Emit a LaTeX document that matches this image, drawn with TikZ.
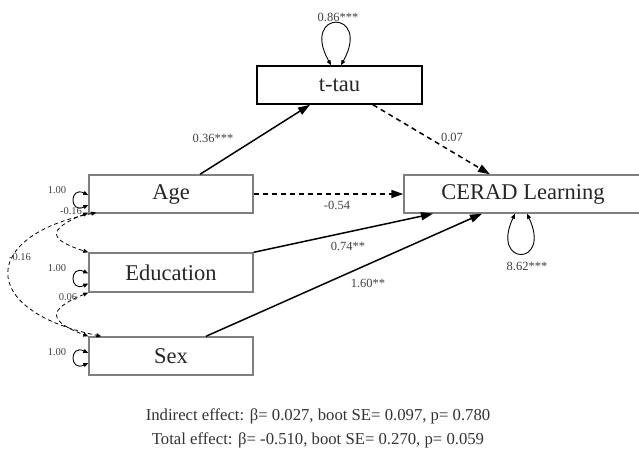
\documentclass[tikz,border=0pt]{standalone}
\usepackage{fontspec}
\setmainfont{Liberation Serif}
\usetikzlibrary{arrows.meta}
\definecolor{boxgray}{HTML}{7F7F7F}
\definecolor{labgray}{HTML}{404040}
\definecolor{txtgray}{HTML}{333333}
\tikzset{
  varbox/.style={draw=boxgray, line width=1.4pt, minimum height=38pt, inner sep=0pt,
    font=\fontsize{22.5}{22.5}\selectfont, text=black!85},
  medbox/.style={varbox, draw=black, line width=1.6pt},
  path/.style={line width=1.5pt, -{Triangle[length=12pt,width=8pt]}},
  dpath/.style={path, dash pattern=on 5pt off 4pt},
  selfloop/.style={line width=0.9pt, {Triangle[length=5pt,width=4pt]}-{Triangle[length=5pt,width=4pt]}},
  cov/.style={line width=0.8pt, dash pattern=on 4pt off 3pt,
    {Triangle[length=5pt,width=4pt]}-{Triangle[length=5pt,width=4pt]}},
  elab/.style={font=\fontsize{12.5}{12.5}\selectfont, text=labgray, inner sep=1pt},
  slab/.style={font=\fontsize{10.5}{10.5}\selectfont, text=labgray, inner sep=1pt},
  note/.style={font=\fontsize{16.7}{16.7}\selectfont, text=txtgray, inner sep=0pt}
}
\begin{document}
\begin{tikzpicture}[x=1pt, y=-1pt]
\useasboundingbox (0,0) rectangle (639,451);
\clip (0,0) rectangle (639,451);

% variables
\node[medbox, minimum width=165pt] (ttau) at (339.5,85) {t-tau};
\node[varbox, minimum width=238pt] (cerad) at (523,194) {CERAD Learning};
\node[varbox, minimum width=164pt] (age) at (171,194) {Age};
\node[varbox, minimum width=164pt, minimum height=39pt] (edu) at (171,272.5) {Education};
\node[varbox, minimum width=164pt] (sex) at (171,356) {Sex};

% regression paths
\draw[path] ([xshift=29pt]age.north) -- ([xshift=-29.5pt]ttau.south);
\draw[dpath] ([xshift=33.5pt]ttau.south) -- ([xshift=-33pt]cerad.north);
\draw[dpath] (age.east) -- (cerad.west);
\draw[path] (edu.north east) -- ([xshift=-90pt]cerad.south);
\draw[path] ([xshift=35pt]sex.north) -- ([xshift=-41pt]cerad.south);

\node[elab] (l1) at (213,138) {0.36***};
\node[elab] (l2) at (452,137) {0.07};
\node[elab] (l3) at (337,205) {-0.54};
\node[elab] (l4) at (348,246) {0.74**};
\node[elab] (l5) at (368,283) {1.60**};

% residual variances
\draw[selfloop] ([xshift=-8.5pt]ttau.north) .. controls +(-31,-56) and +(31,-56) .. ([xshift=1.5pt]ttau.north);
\node[elab] (v1) at (338,17) {0.86***};
\draw[selfloop] ([xshift=-8pt]cerad.south) .. controls +(-25,53) and +(25,53) .. ([xshift=4pt]cerad.south);
\node[elab] (v2) at (527,266) {8.62***};

% exogenous variances
\draw[selfloop] ([yshift=-1pt]age.west) .. controls +(-19,-9) and +(-19,9) .. ([yshift=-11pt]age.west);
\draw[selfloop] ([yshift=-1pt]edu.west) .. controls +(-19,-9) and +(-19,9) .. ([yshift=-11pt]edu.west);
\draw[selfloop] ([yshift=3pt]sex.west) .. controls +(-19,-9) and +(-19,9) .. ([yshift=-7pt]sex.west);
\node[slab] (w1) at (57,190) {1.00};
\node[slab] (w2) at (57,268) {1.00};
\node[slab] (w3) at (57,352) {1.00};

% covariances
\draw[cov] ([yshift=1pt]age.south west) .. controls (45,230) and (50,240) .. (edu.north west);
\draw[cov] ([xshift=8pt,yshift=1pt]age.south west) .. controls (-18,235) and (-24,310) .. ([xshift=13pt]sex.north west);
\draw[cov] (edu.south west) .. controls (45,310) and (50,322) .. (sex.north west);
\node[slab] (c1) at (71,211) {-0.16};
\node[slab] (c2) at (20,257) {-0.16};
\node[slab] (c3) at (68,297) {0.06};

% effect summary
\node[note] (n1) at (318,416) {Indirect effect: β= 0.027, boot SE= 0.097, p= 0.780};
\node[note] (n2) at (318,440) {Total effect: β= -0.510, boot SE= 0.270, p= 0.059};
\end{tikzpicture}
\end{document}
